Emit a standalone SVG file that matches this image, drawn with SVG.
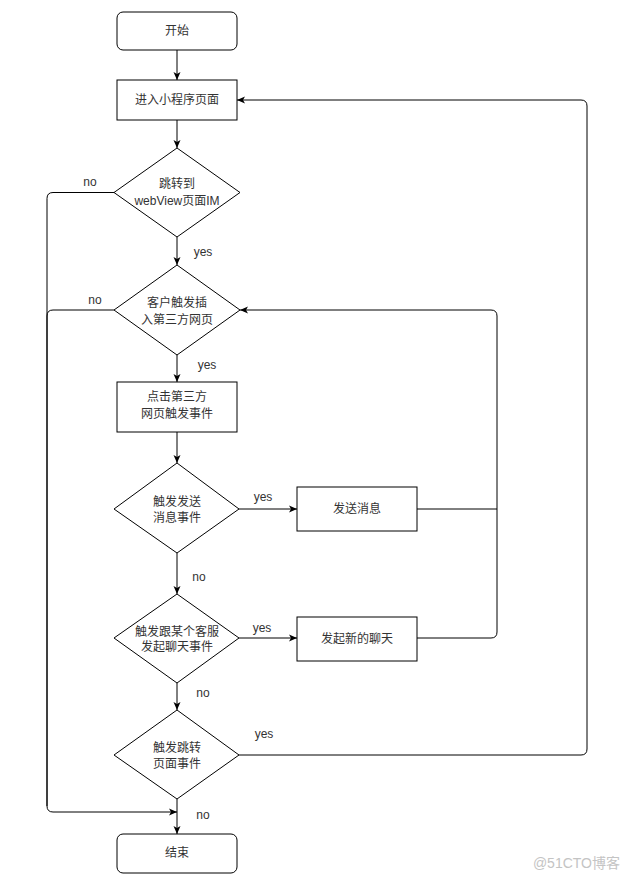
<svg xmlns="http://www.w3.org/2000/svg" width="629" height="881" viewBox="0 0 629 881">
<style>
.n{fill:#fff;stroke:#000;stroke-width:1}
.t{font-family:"Liberation Sans","Noto Sans CJK SC",sans-serif;font-size:12px;fill:#333;text-anchor:middle}
.l{font-family:"Liberation Sans","Noto Sans CJK SC",sans-serif;font-size:12px;fill:#333;text-anchor:middle}
.c{fill:none;stroke:#000;stroke-width:1}
.w{font-family:"Liberation Sans","Noto Sans CJK SC",sans-serif;font-size:14px;fill:#c4c4c4;text-anchor:end}
</style>
<defs>
<marker id="a" markerUnits="userSpaceOnUse" markerWidth="9" markerHeight="8" refX="8" refY="4" orient="auto">
<path d="M0,0.5 L8,4 L0,7.5 L2,4 z" fill="#000"/>
</marker>
</defs>
<rect width="629" height="881" fill="#fff"/>
<g id="connectors">
<path class="c" d="M177,50 V80" marker-end="url(#a)"/>
<path class="c" d="M177,120 V148" marker-end="url(#a)"/>
<path class="c" d="M177,237 V265" marker-end="url(#a)"/>
<path class="c" d="M177,355 V382" marker-end="url(#a)"/>
<path class="c" d="M177,432 V463" marker-end="url(#a)"/>
<path class="c" d="M239,509 H297" marker-end="url(#a)"/>
<path class="c" d="M177,553 V594" marker-end="url(#a)"/>
<path class="c" d="M239,638 H297" marker-end="url(#a)"/>
<path class="c" d="M177,683 V710" marker-end="url(#a)"/>
<path class="c" d="M177,799 V834" marker-end="url(#a)"/>
<path class="c" d="M239,755 H581 Q587,755 587,749 V106 Q587,100 581,100 H237" marker-end="url(#a)"/>
<path class="c" d="M417,509 H497"/>
<path class="c" d="M417,638 H491 Q497,638 497,632 V316 Q497,310 491,310 H240" marker-end="url(#a)"/>
<path class="c" d="M114,192.5 H53 Q47,192.5 47,198.5 V806 Q47,812 53,812 H177" marker-end="url(#a)"/>
<path class="c" d="M114,310 H53 Q47,310 47,316 V806"/>
<text class="l" x="90" y="186">no</text>
<text class="l" x="203" y="256">yes</text>
<text class="l" x="95" y="304">no</text>
<text class="l" x="207" y="369">yes</text>
<text class="l" x="263" y="501">yes</text>
<text class="l" x="199" y="581">no</text>
<text class="l" x="262" y="632">yes</text>
<text class="l" x="203" y="697">no</text>
<text class="l" x="264" y="738">yes</text>
<text class="l" x="203" y="819">no</text>
</g>
<g id="start">
<rect class="n" x="117" y="12" width="120" height="38" rx="6"/>
<text class="t" x="177" y="35">开始</text>
</g>
<g id="enter">
<rect class="n" x="117" y="80" width="120" height="40"/>
<text class="t" x="177" y="104">进入小程序页面</text>
</g>
<g id="d1">
<polygon class="n" points="177,148 240,192.5 177,237 114,192.5"/>
<text class="t" x="177" y="188">跳转到</text>
<text class="t" x="177" y="205">webView页面IM</text>
</g>
<g id="d2">
<polygon class="n" points="177,265 240,310 177,355 114,310"/>
<text class="t" x="177" y="307">客户触发插</text>
<text class="t" x="177" y="324">入第三方网页</text>
</g>
<g id="click">
<rect class="n" x="117" y="382" width="120" height="50"/>
<text class="t" x="177" y="401">点击第三方</text>
<text class="t" x="177" y="418">网页触发事件</text>
</g>
<g id="d3">
<polygon class="n" points="177,463 239,509 177,553 114,509"/>
<text class="t" x="177" y="506">触发发送</text>
<text class="t" x="177" y="522">消息事件</text>
</g>
<g id="send">
<rect class="n" x="297" y="487" width="120" height="44"/>
<text class="t" x="357" y="513">发送消息</text>
</g>
<g id="d4">
<polygon class="n" points="177,594 239,638 177,683 114,638"/>
<text class="t" x="177" y="636">触发跟某个客服</text>
<text class="t" x="177" y="651">发起聊天事件</text>
</g>
<g id="chat">
<rect class="n" x="297" y="617" width="120" height="44"/>
<text class="t" x="357" y="643">发起新的聊天</text>
</g>
<g id="d5">
<polygon class="n" points="177,710 239,755 177,799 114,755"/>
<text class="t" x="177" y="752">触发跳转</text>
<text class="t" x="177" y="768">页面事件</text>
</g>
<g id="end">
<rect class="n" x="117" y="834" width="120" height="39" rx="6"/>
<text class="t" x="177" y="857">结束</text>
</g>
<text class="w" x="620" y="868">@51CTO博客</text>
</svg>
